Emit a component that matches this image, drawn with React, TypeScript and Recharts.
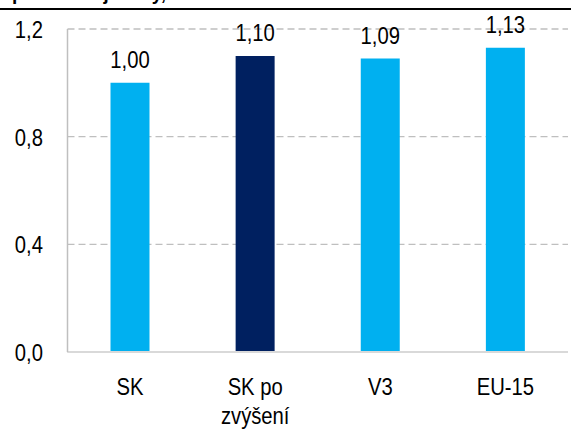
import React from 'react';
import { BarChart, Bar, XAxis, YAxis, CartesianGrid, LabelList, Cell } from 'recharts';

const categories = ['SK', 'SK po zvýšení', 'V3', 'EU-15'];
const values = [1.0, 1.1, 1.09, 1.13];
const colors = ['#00B0F0', '#002060', '#00B0F0', '#00B0F0'];
const yTicks = [0, 0.4, 0.8, 1.2];

const data = categories.map((c, i) => ({ name: c, value: values[i] }));

const FONT = '"Liberation Sans", Arial, sans-serif';
const SX = 0.88;
const FS = 23;

const fmt = (v: number, d: number) => v.toFixed(d).replace('.', ',');

const NText = ({ x, y, anchor, children }: any) => (
  <text
    transform={`translate(${x},${y}) scale(${SX},1)`}
    x={0}
    y={0}
    textAnchor={anchor}
    fill="#000"
    fontSize={FS}
    fontFamily={FONT}
  >
    {children}
  </text>
);

const XTick = (props: any) => {
  const { x, payload } = props;
  const label: string = payload.value;
  const lines = label === 'SK po zvýšení' ? ['SK po', 'zvýšení'] : [label];
  return (
    <g>
      {lines.map((l, i) => (
        <NText key={i} x={x} y={395 + i * 29} anchor="middle">
          {l}
        </NText>
      ))}
    </g>
  );
};

const YTick = (props: any) => {
  const { y, payload } = props;
  return (
    <NText x={43} y={y + 9} anchor="end">
      {fmt(payload.value, 1)}
    </NText>
  );
};

const ValueLabel = (props: any) => {
  const { x, y, width, value } = props;
  return (
    <NText x={x + width / 2} y={y - 15} anchor="middle">
      {fmt(Number(value), 2)}
    </NText>
  );
};

export default function App() {
  return (
    <div style={{ position: 'absolute', left: 0, top: 0, width: 571, height: 429, background: '#fff', overflow: 'hidden' }}>
      <div
        style={{
          position: 'absolute',
          left: 12,
          top: -19,
          fontFamily: FONT,
          fontWeight: 'bold',
          fontSize: 21,
          lineHeight: '24px',
          whiteSpace: 'nowrap',
          color: '#000',
          transform: `scaleX(0.9)`,
          transformOrigin: 'left top',
        }}
      >
        priemernej mzdy, 2017
      </div>
      <div style={{ position: 'absolute', left: 0, top: 8, width: 571, height: 1.5, background: '#000' }} />
      <BarChart width={571} height={429} data={data} margin={{ top: 29, right: 3, left: 0, bottom: 0 }} barSize={39}>
        <CartesianGrid vertical={false} stroke="#BFBFBF" strokeDasharray="7 4" strokeWidth={1.3} />
        <XAxis
          dataKey="name"
          axisLine={{ stroke: '#D9D9D9', strokeWidth: 2 }}
          tickLine={false}
          tick={<XTick />}
          interval={0}
          height={77}
        />
        <YAxis
          domain={[0, 1.2]}
          ticks={yTicks}
          width={67.5}
          axisLine={{ stroke: '#BFBFBF', strokeWidth: 1.5 }}
          tickLine={false}
          tick={<YTick />}
        />
        <Bar dataKey="value" isAnimationActive={false}>
          {data.map((d, i) => (
            <Cell key={i} fill={colors[i]} />
          ))}
          <LabelList dataKey="value" content={<ValueLabel />} />
        </Bar>
      </BarChart>
    </div>
  );
}
